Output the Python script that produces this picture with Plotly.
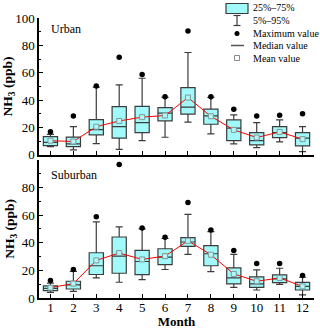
import plotly.graph_objects as go
from plotly.subplots import make_subplots

MONTHS = list(range(1, 13))

# Urban (ppb)
URBAN_P5 = [6.0, 3.7, 8.3, 4.1, 10.5, 12.9, 23.9, 15.4, 8.0, 5.4, 9.5, 2.4]
URBAN_Q1 = [6.8, 6.0, 14.6, 12.2, 16.3, 24.9, 29.8, 22.4, 10.5, 7.3, 12.7, 6.6]
URBAN_MEDIAN = [9.2, 8.0, 18.5, 20.7, 23.6, 30.5, 34.9, 28.5, 19.5, 10.5, 16.3, 12.2]
URBAN_Q3 = [13.4, 13.0, 25.8, 35.3, 35.4, 34.6, 49.2, 33.4, 25.6, 16.3, 20.7, 16.3]
URBAN_P95 = [15.0, 20.7, 49.5, 51.1, 56.0, 42.0, 74.8, 42.0, 29.3, 23.6, 25.6, 20.7]
URBAN_MAX = [17.0, 28.5, 50.3, 71.3, 58.8, 42.4, 90.5, 42.4, 33.4, 28.5, 29.0, 30.0]
URBAN_MEAN = [10.4, 9.8, 20.6, 24.8, 27.6, 28.8, 41.9, 28.2, 18.3, 12.7, 16.8, 11.5]

# Suburban (ppb)
SUBURBAN_P5 = [4.1, 4.8, 14.5, 11.4, 13.3, 20.6, 31.5, 19.1, 7.7, 5.8, 9.9, 2.2]
SUBURBAN_Q1 = [5.3, 6.5, 17.0, 17.9, 16.9, 24.2, 37.3, 23.3, 10.2, 7.7, 11.1, 5.8]
SUBURBAN_MEDIAN = [7.0, 9.5, 23.3, 30.3, 26.4, 29.5, 40.5, 32.0, 14.5, 10.2, 13.8, 8.4]
SUBURBAN_Q3 = [8.7, 12.1, 32.7, 44.1, 34.4, 35.6, 43.6, 37.8, 21.8, 15.3, 16.7, 11.3]
SUBURBAN_P95 = [10.7, 19.2, 55.0, 51.4, 50.0, 43.0, 60.4, 48.0, 31.5, 20.4, 21.5, 15.0]
SUBURBAN_MAX = [12.6, 20.6, 58.7, 96.5, 50.6, 43.9, 69.0, 49.2, 34.4, 24.9, 24.9, 16.2]
SUBURBAN_MEAN = [7.5, 10.4, 27.2, 32.5, 27.9, 30.3, 41.4, 31.3, 17.4, 12.1, 14.5, 8.4]

Y_TICKS_TOP = [0, 20, 40, 60, 80, 100]
Y_TICKS_BOTTOM = [0, 20, 40, 60, 80]

FONT = "Liberation Serif, Times New Roman, serif"
BOX_FILL = "#A2F9F9"
BOX_LINE = "#3C3C3C"

W, H = 320, 329
ML, MR, MT, MB = 39, 6, 18, 31


def px_to_paper(x, y):
    """像素坐标转 paper 坐标，仅用于图例装饰。"""
    return (x - ML) / (W - ML - MR), (H - MB - y) / (H - MT - MB)


fig = make_subplots(rows=2, cols=1, shared_xaxes=False, vertical_spacing=0.017)

panels = [
    (URBAN_P5, URBAN_Q1, URBAN_MEDIAN, URBAN_Q3, URBAN_P95, URBAN_MAX, URBAN_MEAN),
    (SUBURBAN_P5, SUBURBAN_Q1, SUBURBAN_MEDIAN, SUBURBAN_Q3, SUBURBAN_P95, SUBURBAN_MAX, SUBURBAN_MEAN),
]

for row, (p5, q1, med, q3, p95, mx, mean) in enumerate(panels, start=1):
    fig.add_trace(go.Box(
        x=MONTHS, q1=q1, median=med, q3=q3, lowerfence=p5, upperfence=p95,
        width=0.62, whiskerwidth=0.5, fillcolor=BOX_FILL,
        line=dict(color=BOX_LINE, width=1.2), boxpoints=False, showlegend=False,
        hoverinfo="skip",
    ), row=row, col=1)
    fig.add_trace(go.Scatter(
        x=MONTHS, y=mean, mode="lines+markers",
        line=dict(color="#FF0000", width=1),
        marker=dict(symbol="square", size=5, color="#B8F4F4",
                    line=dict(color="#7A9A9A", width=1)),
        showlegend=False,
    ), row=row, col=1)
    fig.add_trace(go.Scatter(
        x=MONTHS, y=mx, mode="markers",
        marker=dict(symbol="circle", size=5.5, color="black"),
        showlegend=False,
    ), row=row, col=1)

axis_common = dict(
    range=[0.5, 12.5], showline=True, linecolor="black", linewidth=1.5,
    ticks="inside", ticklen=4, tickwidth=1, tickcolor="black",
    tickvals=MONTHS, showgrid=False, zeroline=False,
    tickfont=dict(family=FONT, size=13, color="black"),
)
fig.update_xaxes(axis_common, row=1, col=1)
fig.update_xaxes(axis_common, row=2, col=1)
fig.update_xaxes(showticklabels=False, row=1, col=1)
fig.update_xaxes(
    ticklabelstandoff=-3,
    title=dict(text="<b>Month</b>", font=dict(family=FONT, size=13, color="black"), standoff=0),
    row=2, col=1,
)

yaxis_common = dict(
    range=[0, 100], showline=True, linecolor="black", linewidth=1.5,
    ticks="inside", ticklen=4, tickwidth=1, tickcolor="black",
    minor=dict(dtick=10, ticks="inside", ticklen=2, tickcolor="black"),
    showgrid=False, zeroline=False,
    tickfont=dict(family=FONT, size=13, color="black"),
    title=dict(text="<b>NH<sub>3</sub> (ppb)</b>", font=dict(family=FONT, size=13.5, color="black"),
               standoff=4),
)
fig.update_yaxes(yaxis_common, tickvals=Y_TICKS_TOP, row=1, col=1)
fig.update_yaxes(yaxis_common, tickvals=Y_TICKS_BOTTOM, row=2, col=1)

fig.update_layout(
    width=W, height=H,
    margin=dict(l=ML, r=MR, t=MT, b=MB, autoexpand=False),
    paper_bgcolor="white", plot_bgcolor="white",
    font=dict(family=FONT, color="black"),
)
fig.update_layout(
    xaxis=dict(domain=[0, 1]), xaxis2=dict(domain=[0, 1]),
    yaxis=dict(domain=[0.511, 1.0]), yaxis2=dict(domain=[0, 0.494]),
)

# 面板标签
fig.add_annotation(text="Urban", x=0.035, xref="x domain", y=0.985, yref="y domain",
                   xanchor="left", yanchor="top", showarrow=False,
                   font=dict(family=FONT, size=12, color="black"))
fig.add_annotation(text="Suburban", x=0.035, xref="x2 domain", y=0.955, yref="y2 domain",
                   xanchor="left", yanchor="top", showarrow=False,
                   font=dict(family=FONT, size=12, color="black"))

# 自绘图例（右上角）
legend_items = ["25%\u201375%", "5%\u201395%", "Maximum value", "Median value", "Mean value"]
legend_y = [8, 20.5, 33.5, 45.5, 58]
icon_x = 237
for label, ly in zip(legend_items, legend_y):
    tx, ty = px_to_paper(251, ly)
    fig.add_annotation(text=label, x=tx, y=ty, xref="paper", yref="paper",
                       xanchor="left", yanchor="middle", showarrow=False,
                       font=dict(family=FONT, size=10, color="black"))

x0, y0 = px_to_paper(226, 3.5)
x1, y1 = px_to_paper(248, 13.5)
fig.add_shape(type="rect", x0=x0, y0=y0, x1=x1, y1=y1, xref="paper", yref="paper",
              fillcolor=BOX_FILL, line=dict(color=BOX_LINE, width=1.2))
# whisker
cx, wt = px_to_paper(icon_x, 15.5)
_, wb = px_to_paper(icon_x, 25.5)
ca, _ = px_to_paper(icon_x - 3.5, 0)
cb, _ = px_to_paper(icon_x + 3.5, 0)
for seg in [(cx, wt, cx, wb), (ca, wt, cb, wt), (ca, wb, cb, wb)]:
    fig.add_shape(type="line", x0=seg[0], y0=seg[1], x1=seg[2], y1=seg[3],
                  xref="paper", yref="paper", line=dict(color=BOX_LINE, width=1.2))
# max dot
dx0, dy0 = px_to_paper(icon_x - 2.5, 31)
dx1, dy1 = px_to_paper(icon_x + 2.5, 36)
fig.add_shape(type="circle", x0=dx0, y0=dy0, x1=dx1, y1=dy1, xref="paper", yref="paper",
              fillcolor="black", line=dict(color="black", width=0))
# median line
mx0, my = px_to_paper(231, 45.5)
mx1, _ = px_to_paper(244, 45.5)
fig.add_shape(type="line", x0=mx0, y0=my, x1=mx1, y1=my, xref="paper", yref="paper",
              line=dict(color="#555555", width=1.5))
# mean square
sx0, sy0 = px_to_paper(icon_x - 2.5, 55.5)
sx1, sy1 = px_to_paper(icon_x + 2.5, 60.5)
fig.add_shape(type="rect", x0=sx0, y0=sy0, x1=sx1, y1=sy1, xref="paper", yref="paper",
              fillcolor="white", line=dict(color="#8A8A8A", width=1))

fig.write_html("out.html", config={"displayModeBar": False},
               post_script="document.body.style.margin='0';")
